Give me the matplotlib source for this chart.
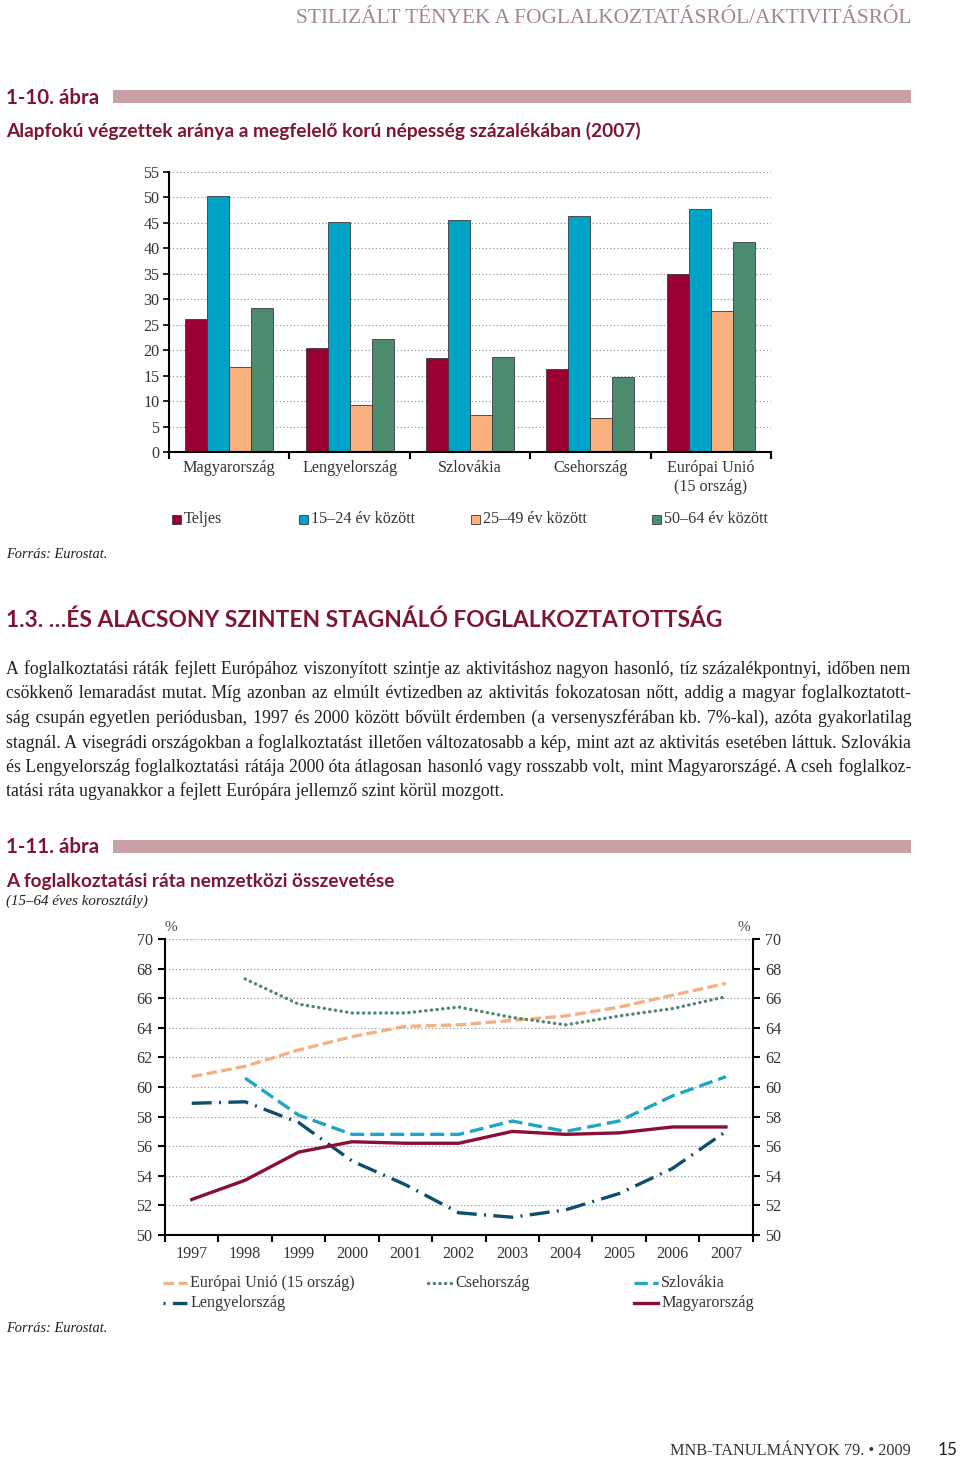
import numpy as np
import matplotlib
matplotlib.use("Agg")
import matplotlib.pyplot as plt
from matplotlib.patches import Rectangle
from matplotlib.lines import Line2D

# ---------------- data ----------------
bar_categories = ["Magyarország", "Lengyelország", "Szlovákia", "Csehország", "Európai Unió\n(15 ország)"]
bar_series = ["Teljes", "15–24 év között", "25–49 év között", "50–64 év között"]
teljes = [26.2, 20.5, 18.4, 16.3, 35.0]
age_15_24 = [50.2, 45.1, 45.5, 46.3, 47.7]
age_25_49 = [16.6, 9.2, 7.3, 6.6, 27.7]
age_50_64 = [28.3, 22.2, 18.6, 14.8, 41.2]
bar_yticks = list(range(0, 56, 5))

years = ["1997", "1998", "1999", "2000", "2001", "2002", "2003", "2004", "2005", "2006", "2007"]
eu15 = [60.7, 61.4, 62.5, 63.4, 64.1, 64.2, 64.5, 64.8, 65.4, 66.2, 67.0]
cz = [np.nan, 67.3, 65.6, 65.0, 65.0, 65.4, 64.7, 64.2, 64.8, 65.3, 66.1]
sk = [np.nan, 60.6, 58.1, 56.8, 56.8, 56.8, 57.7, 57.0, 57.7, 59.4, 60.7]
pl = [58.9, 59.0, 57.6, 55.0, 53.4, 51.5, 51.2, 51.7, 52.8, 54.5, 57.0]
hu = [52.4, 53.7, 55.6, 56.3, 56.2, 56.2, 57.0, 56.8, 56.9, 57.3, 57.3]
line_names = ["Európai Unió (15 ország)", "Csehország", "Szlovákia", "Lengyelország", "Magyarország"]
line_yticks = list(range(50, 71, 2))

paragraph = [
    "A foglalkoztatási ráták fejlett Európához viszonyított szintje az aktivitáshoz nagyon hasonló, tíz százalékpontnyi, időben nem",
    "csökkenő lemaradást mutat. Míg azonban az elmúlt évtizedben az aktivitás fokozatosan nőtt, addig a magyar foglalkoztatott-",
    "ság csupán egyetlen periódusban, 1997 és 2000 között bővült érdemben (a versenyszférában kb. 7%-kal), azóta gyakorlatilag",
    "stagnál. A visegrádi országokban a foglalkoztatást illetően változatosabb a kép, mint azt az aktivitás esetében láttuk. Szlovákia",
    "és Lengyelország foglalkoztatási rátája 2000 óta átlagosan hasonló vagy rosszabb volt, mint Magyarországé. A cseh foglalkoz-",
    "tatási ráta ugyanakkor a fejlett Európára jellemző szint körül mozgott.",
]

# ---------------- style ----------------
W, H = 960, 1458
SERIF = ["Liberation Serif", "DejaVu Serif"]
SANSB = ["Lato", "DejaVu Sans"]
DARKRED = "#7E1631"
BAND = "#C9A0A8"
TXT = "#231F20"
LBL = "#333333"
bar_colors = ["#9A0033", "#00A3C8", "#F8B07E", "#4B8B6E"]
line_colors = ["#F4B183", "#4E8A6F", "#1EA6C2", "#0D4F6B", "#8A0E35"]
FS = 11.6

plt.rcParams["font.family"] = SERIF
fig = plt.figure(figsize=(W / 100, H / 100), dpi=100)
fig.patch.set_facecolor("white")
r = fig.canvas.get_renderer()


def fx(x):
    return x / W


def fy(y):
    return 1 - y / H


def fit(x, y, s, width, ha="left", va="baseline", size0=12, **kw):
    t = fig.text(fx(x), fy(y), s, fontsize=size0, ha=ha, va=va, **kw)
    w = t.get_window_extent(renderer=r).width
    t.set_fontsize(size0 * width / w)
    return t


def textw(s, size, **kw):
    t = fig.text(0, 0, s, fontsize=size, **kw)
    w = t.get_window_extent(renderer=r).width
    t.remove()
    return w


# ---------------- page header ----------------
fit(911, 23, "STILIZÁLT TÉNYEK A FOGLALKOZTATÁSRÓL/AKTIVITÁSRÓL", 616, ha="right",
    color="#A4848C", family=SERIF)

fit(6, 104, "1-10. ábra", 93, color=DARKRED, family=SANSB, fontweight="bold")
fig.add_artist(Rectangle((fx(113), fy(103)), (911 - 113) / W, 13 / H, transform=fig.transFigure,
                         facecolor=BAND, edgecolor="none"))
fit(6, 137, "Alapfokú végzettek aránya a megfelelő korú népesség százalékában (2007)", 630,
    color=DARKRED, family=SANSB, fontweight="bold")

# ---------------- bar chart ----------------
ax1 = fig.add_axes([fx(169), fy(452), (771 - 169) / W, (452 - 172) / H])
x = np.arange(len(bar_categories))
bw = 0.183
for i, (vals, col) in enumerate(zip([teljes, age_15_24, age_25_49, age_50_64], bar_colors)):
    ax1.bar(x + (i - 1.5) * bw, vals, width=bw, color=col, edgecolor="#3a3a3a", linewidth=0.6,
            zorder=3, label=bar_series[i])
ax1.set_xlim(-0.5, len(bar_categories) - 0.5)
ax1.set_ylim(0, 55)
ax1.set_yticks(bar_yticks)
ax1.set_yticklabels([str(v) for v in bar_yticks], fontsize=FS, color=LBL, family=SERIF)
ax1.set_xticks(np.arange(-0.5, len(bar_categories), 1.0))
ax1.set_xticklabels([])
ax1.set_xticks(x, minor=True)
ax1.set_xticklabels(bar_categories, minor=True, fontsize=FS, color=LBL, family=SERIF,
                    linespacing=1.2)
ax1.tick_params(axis="x", which="minor", length=0, pad=6)
ax1.tick_params(axis="x", which="major", direction="out", length=5, width=1.5)
ax1.tick_params(axis="y", direction="out", length=4, width=1.2, pad=3)
ax1.yaxis.grid(True, linestyle=(0, (1, 2.2)), color="#8a8a8a", linewidth=0.8, zorder=0)
ax1.set_axisbelow(True)
for s in ["top", "right"]:
    ax1.spines[s].set_visible(False)
for s in ["left", "bottom"]:
    ax1.spines[s].set_linewidth(1.5)
    ax1.spines[s].set_zorder(4)

# bar legend (manual positions)
leg_x = [172, 299, 471, 652]
for lx, col, name in zip(leg_x, bar_colors, bar_series):
    fig.add_artist(Rectangle((fx(lx), fy(524)), 9 / W, 9 / H, transform=fig.transFigure,
                             facecolor=col, edgecolor="#3a3a3a", linewidth=0.6))
    fig.text(fx(lx + 12), fy(519), name, fontsize=FS, color=LBL, va="center", family=SERIF)

fit(6, 558, "Forrás: Eurostat.", 101, color=TXT, family=SERIF, style="italic")

# ---------------- section heading & paragraph ----------------
fit(6, 627, "1.3. …ÉS ALACSONY SZINTEN STAGNÁLÓ FOGLALKOZTATOTTSÁG", 716,
    color=DARKRED, family=SANSB, fontweight="bold")

psize = 13.4
maxw = max(textw(ln, psize, family=SERIF) for ln in paragraph[:-1])
if maxw > 898:
    psize = psize * 898 / maxw

w_aa = textw("aa", psize, family=SERIF)
w_sp = textw("a a", psize, family=SERIF) - w_aa
w_hair = textw("a\u200aa", psize, family=SERIF) - w_aa
if w_hair <= 0.3:
    w_hair = textw("a\u2009a", psize, family=SERIF) - w_aa
    HAIR = "\u2009"
else:
    HAIR = "\u200a"

base0, lstep = 674, 24.5
for li, ln in enumerate(paragraph):
    y = base0 + li * lstep
    if li == len(paragraph) - 1:
        fig.text(fx(6), fy(y), ln, fontsize=psize, va="baseline", color=TXT, family=SERIF)
        continue
    words = ln.split(" ")
    natural = textw(ln, psize, family=SERIF)
    extra_total = 905 - natural
    ngap = len(words) - 1
    per = extra_total / ngap
    out = words[0]
    added = 0.0
    for k, wd in enumerate(words[1:], start=1):
        want = per * k - added
        n = max(0, int(round(want / w_hair)))
        out += " " + HAIR * n + wd
        added += n * w_hair
    fig.text(fx(6), fy(y), out, fontsize=psize, va="baseline", color=TXT, family=SERIF)

# ---------------- second figure header ----------------
fit(6, 853, "1-11. ábra", 93, color=DARKRED, family=SANSB, fontweight="bold")
fig.add_artist(Rectangle((fx(113), fy(853)), (911 - 113) / W, 13 / H, transform=fig.transFigure,
                         facecolor=BAND, edgecolor="none"))
fit(6, 887, "A foglalkoztatási ráta nemzetközi összevetése", 386,
    color=DARKRED, family=SANSB, fontweight="bold")
fit(6, 905, "(15–64 éves korosztály)", 142, color=TXT, family=SERIF, style="italic")

# ---------------- line chart ----------------
ax2 = fig.add_axes([fx(165), fy(1235), (752.7 - 165) / W, (1235 - 939) / H])
xi = np.arange(len(years))
styles = [
    dict(linestyle=(0, (3.2, 1.3)), dash_capstyle="butt"),
    dict(linestyle=(0, (0.1, 1.6)), dash_capstyle="round"),
    dict(linestyle=(0, (4.2, 1.8)), dash_capstyle="butt"),
    dict(linestyle=(0, (6.0, 2.2, 0.6, 2.2)), dash_capstyle="butt"),
    dict(linestyle="-"),
]
leg_styles = [
    styles[0],
    styles[1],
    dict(linestyle=(0, (4.0, 1.6)), dash_capstyle="butt"),
    dict(linestyle=(8.2, (6.0, 2.2, 0.6, 2.2)), dash_capstyle="butt"),
    styles[4],
]
series = [eu15, cz, sk, pl, hu]
for vals, col, st, name in zip(series, line_colors, styles, line_names):
    ax2.plot(xi, vals, color=col, linewidth=2.4, label=name, zorder=3, **st)
ax2.set_xlim(-0.5, len(years) - 0.5)
ax2.set_ylim(50, 70)
ax2.set_yticks(line_yticks)
ax2.set_yticklabels([str(v) for v in line_yticks], fontsize=FS, color=LBL, family=SERIF)
ax2.tick_params(axis="y", which="both", left=True, right=True, labelleft=True, labelright=True,
                direction="out", length=5, width=1.5, pad=4)
ax2.set_xticks(np.arange(-0.5, len(years), 1.0))
ax2.set_xticklabels([])
ax2.set_xticks(xi, minor=True)
ax2.set_xticklabels(years, minor=True, fontsize=FS, color=LBL, family=SERIF)
ax2.tick_params(axis="x", which="minor", length=0, pad=8)
ax2.tick_params(axis="x", which="major", direction="out", length=5, width=1.5)
ax2.yaxis.grid(True, linestyle=(0, (1, 2.2)), color="#8a8a8a", linewidth=0.8, zorder=0)
ax2.spines["top"].set_visible(False)
for s in ["left", "right", "bottom"]:
    ax2.spines[s].set_linewidth(1.5)
fig.text(fx(171), fy(927), "%", fontsize=11, color="#444444", ha="center", va="center", family=SERIF)
fig.text(fx(744), fy(927), "%", fontsize=11, color="#444444", ha="center", va="center", family=SERIF)

# line legend (manual)
leg_items = [(163, 1283, 0), (428, 1283, 1), (634, 1283, 2), (163, 1303, 3), (634, 1303, 4)]
for lx, ly, k in leg_items:
    ln = Line2D([fx(lx), fx(lx + 24)], [fy(ly), fy(ly)], transform=fig.transFigure,
                color=line_colors[k], linewidth=2.4, **leg_styles[k])
    fig.add_artist(ln)
    fig.text(fx(lx + 27), fy(ly), line_names[k], fontsize=FS, color=LBL, va="center", family=SERIF)

fit(6, 1332, "Forrás: Eurostat.", 101, color=TXT, family=SERIF, style="italic")

# ---------------- footer ----------------
fit(911, 1455, "MNB-TANULMÁNYOK 79. • 2009", 239, ha="right", color=LBL, family=SERIF)
fit(958, 1455, "15", 20, ha="right", color=TXT, family=SANSB)

fig.savefig("out.png", dpi=100, facecolor="white")
